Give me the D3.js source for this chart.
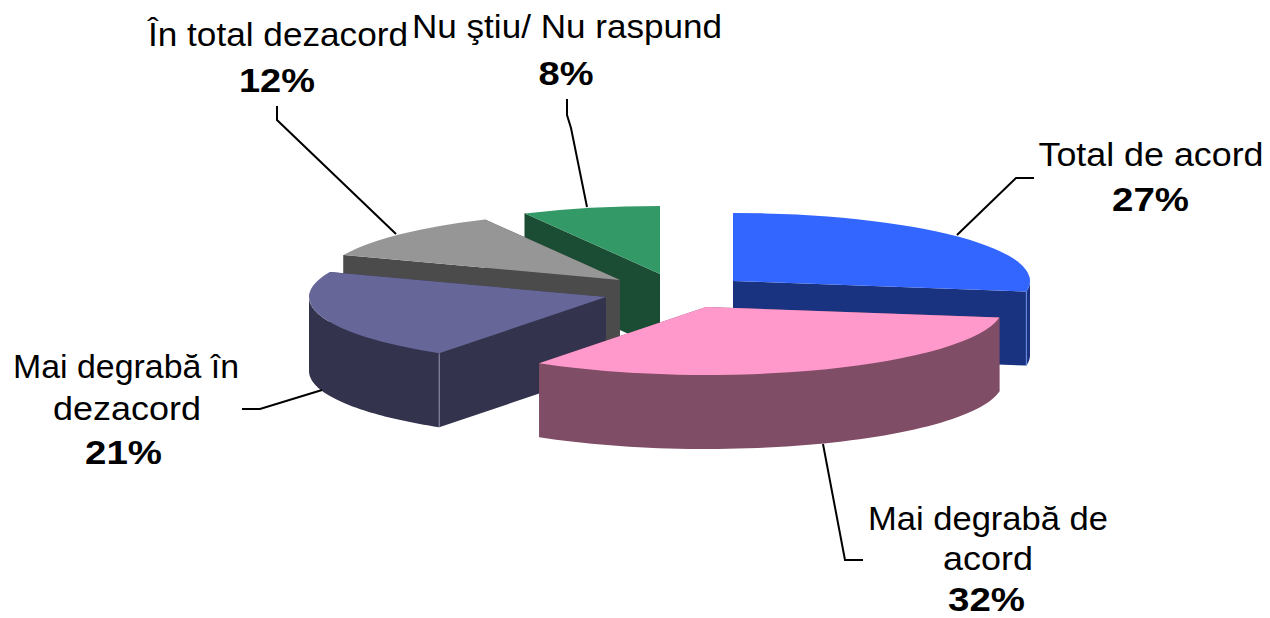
<!DOCTYPE html>
<html>
<head>
<meta charset="utf-8">
<script src="https://cdn.jsdelivr.net/npm/d3@7/dist/d3.min.js"></script>
<style>
html,body{margin:0;padding:0;background:#fff;overflow:hidden}
svg{display:block}
text{font-family:"Liberation Sans",Arial,sans-serif;fill:#000}
</style>
</head>
<body>
<script>
// Data
const categories = ["Total de acord", "Mai degrabă de acord", "Mai degrabă în dezacord", "În total dezacord", "Nu ştiu/ Nu raspund"];
const values = [27.49, 32.0, 21.5, 11.5, 7.51];
const percentLabels = ["27%", "32%", "21%", "12%", "8%"];
const labelLines = [["Total de acord"], ["Mai degrabă de", "acord"], ["Mai degrabă în", "dezacord"], ["În total dezacord"], ["Nu ştiu/ Nu raspund"]];
const topColors = ["#3366FF", "#FF99CC", "#666699", "#969696", "#339966"];
const wallColors = ["#1A3380", "#804D66", "#33334D", "#4B4B4B", "#1A4D33"];
const seamColors = ["#6F8FE8", "#804D66", "#8E8EAE", "#4B4B4B", "#1A4D33"];

// Layout
const W = 1270, H = 618;
const RX = 297, RY = 68, DEPTH = 74;
const apexes = [[733, 281], [706, 307], [606, 297], [620, 280], [660, 274]];
const drawOrder = [4, 3, 0, 2, 1];
// one [centre x, baseline y, drawn width] per text line
const lineBoxes = [
  [[1151, 166, 225]],
  [[988, 530, 240], [988, 570, 90]],
  [[126, 378, 226], [127, 420, 148]],
  [[278, 46, 260]],
  [[567, 38, 310]]
];
const pctBoxes = [[1150.5, 211, 77], [986.5, 611, 77], [123.5, 464, 77], [277, 92, 76], [566, 85, 55]];
const leaders = [
  [[957, 235], [1016, 178], [1034, 178]],
  [[823, 444], [845, 560], [863, 560]],
  [[322, 390], [260, 409], [242, 409]],
  [[396, 234], [277, 120], [277, 106]],
  [[587, 207], [571, 128], [567, 115], [567, 99]]
];
const FONT = 34, FONT_BOLD = 34;

const svg = d3.select("body").append("svg").attr("width", W).attr("height", H);
const arcs = d3.pie().sort(null)(values);
const arcGen = d3.arc().innerRadius(0).outerRadius(RX);
const xScale = d3.scaleLinear().domain([-1, 1]).range([-RX, RX]);
const yScale = d3.scaleLinear().domain([-1, 1]).range([-RY, RY]);
const proj = (i, a, dz = 0) => [
  apexes[i][0] + xScale(Math.sin(a)),
  apexes[i][1] + yScale(-Math.cos(a)) + dz
];
const line = d3.line();
const HALF = Math.PI / 2, THREE = 3 * Math.PI / 2;

function radialWall(i, a) {
  const ap = apexes[i];
  return line([ap, proj(i, a), proj(i, a, DEPTH), [ap[0], ap[1] + DEPTH]]) + "Z";
}
function outerWall(i, a0, a1) {
  const s = Math.max(a0, HALF), e = Math.min(a1, THREE);
  if (e <= s) return null;
  const t = d3.scaleLinear().domain([0, 60]).range([s, e]);
  const steps = d3.range(61).map(t);
  const up = steps.map(a => proj(i, a));
  const down = steps.slice().reverse().map(a => proj(i, a, DEPTH));
  return line(up.concat(down)) + "Z";
}

const slices = svg.selectAll("g.slice")
  .data(drawOrder.map(i => ({ i, arc: arcs[i] })))
  .join("g").attr("class", "slice");

slices.each(function (d) {
  const g = d3.select(this), i = d.i, a0 = d.arc.startAngle, a1 = d.arc.endAngle;
  [a0, a1].forEach(a => g.append("path").attr("d", radialWall(i, a)).attr("fill", wallColors[i]));
  const ow = outerWall(i, a0, a1);
  if (ow) g.append("path").attr("d", ow).attr("fill", wallColors[i]);
  // seam between radial wall and outer wall
  const seam = a1 < Math.PI ? a1 : (a0 > Math.PI ? a0 : null);
  if (seam !== null) {
    g.append("path").attr("d", line([proj(i, seam), proj(i, seam, DEPTH)]))
      .attr("stroke", seamColors[i]).attr("stroke-width", 1).attr("fill", "none");
  }
  g.append("path")
    .attr("d", arcGen(d.arc))
    .attr("transform", `translate(${apexes[i][0]},${apexes[i][1]}) scale(1,${RY / RX})`)
    .attr("fill", topColors[i]);
});

svg.selectAll("path.leader").data(leaders).join("path")
  .attr("class", "leader").attr("d", d => line(d))
  .attr("fill", "none").attr("stroke", "#000").attr("stroke-width", 2);

const putText = (t, box, bold) => svg.append("text")
  .attr("x", box[0]).attr("y", box[1])
  .attr("text-anchor", "middle").attr("font-size", bold ? FONT_BOLD : FONT)
  .attr("font-weight", bold ? "bold" : "normal")
  .attr("textLength", box[2]).attr("lengthAdjust", "spacingAndGlyphs")
  .text(t);

categories.forEach((c, i) => {
  labelLines[i].forEach((t, k) => putText(t, lineBoxes[i][k], false));
  putText(percentLabels[i], pctBoxes[i], true);
});
</script>
</body>
</html>
